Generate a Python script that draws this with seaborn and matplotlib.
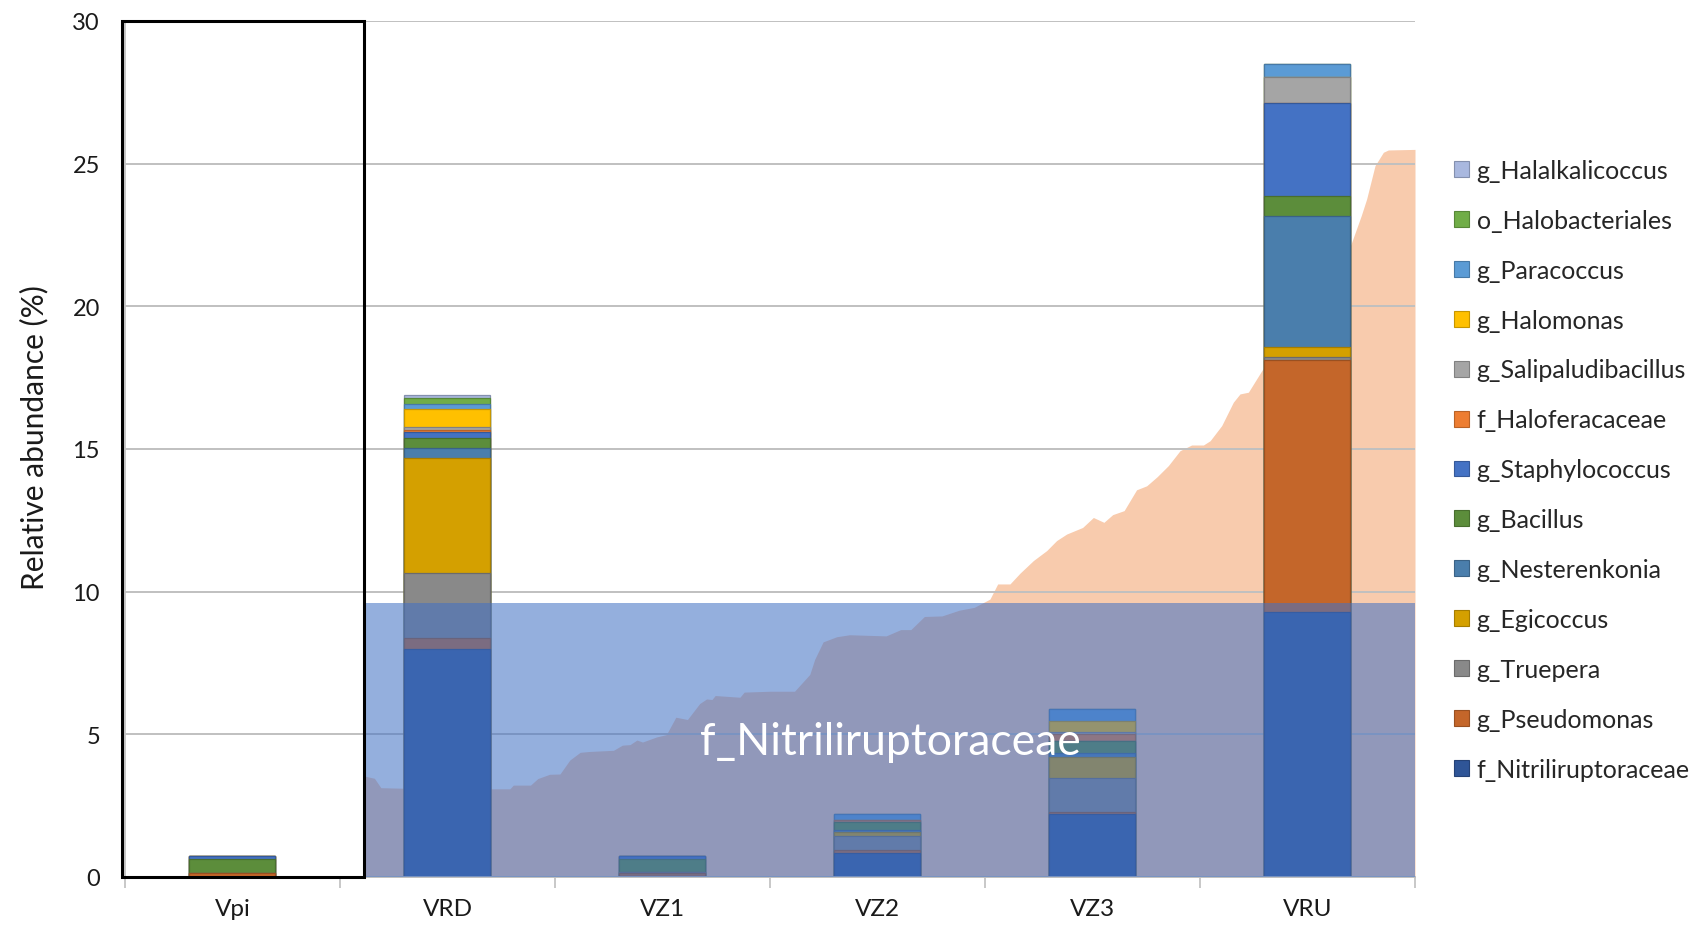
import numpy as np
import pandas as pd
import matplotlib
matplotlib.use("Agg")
import matplotlib.pyplot as plt
from matplotlib.patches import Rectangle, Patch
import matplotlib.colors as mcolors
import seaborn as sns

# ---- data -------------------------------------------------------------
sites = ["Vpi", "VRD", "VZ1", "VZ2", "VZ3", "VRU"]

f_Nitriliruptoraceae = [0.00, 8.00, 0.03, 0.85, 2.20, 9.30]
g_Pseudomonas        = [0.14, 0.39, 0.10, 0.10, 0.07, 8.81]
g_Truepera           = [0.00, 2.25, 0.06, 0.50, 1.19, 0.13]
g_Egicoccus          = [0.00, 4.04, 0.00, 0.14, 0.76, 0.34]
g_Nesterenkonia      = [0.00, 0.35, 0.00, 0.04, 0.14, 4.58]
g_Bacillus           = [0.48, 0.35, 0.45, 0.31, 0.39, 0.69]
g_Staphylococcus     = [0.12, 0.21, 0.08, 0.00, 0.00, 3.28]
f_Haloferacaceae     = [0.00, 0.09, 0.00, 0.06, 0.26, 0.00]
g_Salipaludibacillus = [0.00, 0.08, 0.00, 0.00, 0.07, 0.91]
g_Halomonas          = [0.00, 0.64, 0.00, 0.00, 0.40, 0.00]
g_Paracoccus         = [0.00, 0.18, 0.00, 0.20, 0.42, 0.47]
o_Halobacteriales    = [0.00, 0.20, 0.00, 0.00, 0.00, 0.00]
g_Halalkalicoccus    = [0.00, 0.10, 0.00, 0.00, 0.00, 0.00]

# stacking order, bottom to top
taxa = [
    ("f_Nitriliruptoraceae", f_Nitriliruptoraceae, "#2F5597"),
    ("g_Pseudomonas", g_Pseudomonas, "#C4662A"),
    ("g_Truepera", g_Truepera, "#898989"),
    ("g_Egicoccus", g_Egicoccus, "#D4A000"),
    ("g_Nesterenkonia", g_Nesterenkonia, "#4A7EAC"),
    ("g_Bacillus", g_Bacillus, "#5C8D3B"),
    ("g_Staphylococcus", g_Staphylococcus, "#4472C4"),
    ("f_Haloferacaceae", f_Haloferacaceae, "#ED7D31"),
    ("g_Salipaludibacillus", g_Salipaludibacillus, "#A5A5A5"),
    ("g_Halomonas", g_Halomonas, "#FFC000"),
    ("g_Paracoccus", g_Paracoccus, "#5B9BD5"),
    ("o_Halobacteriales", o_Halobacteriales, "#70AD47"),
    ("g_Halalkalicoccus", g_Halalkalicoccus, "#A9B8DF"),
]

# background abundance profile (category-axis positions and % values)
profile_x = [0.612, 0.66, 0.69, 0.80, 1.20, 1.29, 1.306, 1.386, 1.42, 1.475,
             1.523, 1.569, 1.617, 1.662, 1.772, 1.813, 1.849, 1.881, 1.907, 1.973,
             2.018, 2.062, 2.116, 2.173, 2.205, 2.23, 2.245, 2.36, 2.38, 2.50,
             2.614, 2.685, 2.708, 2.747, 2.81, 2.87, 3.04, 3.108, 3.155, 3.218,
             3.30, 3.38, 3.45, 3.523, 3.559, 3.616, 3.663, 3.725, 3.787, 3.833,
             3.88, 3.954, 4.004, 4.053, 4.094, 4.147, 4.205, 4.252, 4.301, 4.353,
             4.407, 4.461, 4.516, 4.547, 4.601, 4.655, 4.686, 4.725, 4.80, 5.0,
             5.20, 5.25, 5.275, 5.314, 5.353, 5.376, 5.5]
profile_y = [3.54, 3.46, 3.13, 3.11, 3.09, 3.09, 3.22, 3.22, 3.45, 3.60,
             3.61, 4.10, 4.37, 4.40, 4.44, 4.62, 4.64, 4.80, 4.73, 4.91,
             4.99, 5.60, 5.52, 6.08, 6.24, 6.22, 6.36, 6.30, 6.48, 6.51,
             6.51, 7.10, 7.63, 8.24, 8.42, 8.49, 8.45, 8.67, 8.67, 9.13,
             9.15, 9.35, 9.45, 9.74, 10.27, 10.27, 10.65, 11.09, 11.44, 11.79,
             12.02, 12.25, 12.60, 12.43, 12.70, 12.84, 13.57, 13.71, 14.03, 14.42,
             14.94, 15.14, 15.14, 15.29, 15.82, 16.64, 16.93, 16.99, 17.9, 20.0,
             22.13, 23.18, 23.76, 24.93, 25.40, 25.48, 25.50]

nitrili_band_level = 9.6
band_x = [0.612, 5.5]
highlight_x = [-0.515, 0.612]
y_max = 30

# ---- figure -----------------------------------------------------------
sns.set_theme(style="white")
plt.rcParams["font.family"] = ["Lato", "DejaVu Sans"]

fig = plt.figure(figsize=(17.08, 9.28), dpi=100)
ax = fig.add_axes([125 / 1708, 50 / 928, (1415 - 125) / 1708, (878 - 22) / 928])

# peach background area
ax.fill_between(profile_x, 0, profile_y, color="#F8CBAD", lw=0, zorder=0.2)

# stacked bars: draw cumulative heights from the top layer downwards
cum = np.cumsum(np.array([t[1] for t in taxa]), axis=0)
for i in range(len(taxa) - 1, -1, -1):
    name, vals, col = taxa[i]
    edge = tuple(np.array(mcolors.to_rgb(col)) * 0.78)
    df = pd.DataFrame({"site": sites, "value": cum[i]})
    sns.barplot(data=df, x="site", y="value", order=sites, color=col,
                saturation=1, width=0.4, errorbar=None, edgecolor=edge,
                linewidth=0.9, zorder=2, ax=ax)

# translucent blue band
ax.fill_between(band_x, 0, nitrili_band_level, color="#4472C4", alpha=0.57,
                lw=0, zorder=3)

# black frame around the first site
ax.add_patch(Rectangle((highlight_x[0], 0), highlight_x[1] - highlight_x[0], y_max,
                       fill=False, edgecolor="black", lw=2.2, zorder=4,
                       clip_on=False))

ax.text(3.06, 4.74, "f_Nitriliruptoraceae", color="white", fontsize=32,
        ha="center", va="center", zorder=5)

# axes styling
ax.set_xlim(-0.5, 5.5)
ax.set_ylim(0, y_max)
ax.set_yticks(range(0, 31, 5))
ax.set_axisbelow(True)
ax.yaxis.grid(True, color="#C0C0C0", lw=1.4)
ax.xaxis.grid(False)
for s in ["top", "right"]:
    ax.spines[s].set_visible(False)
ax.spines["left"].set_color("#BFBFBF")
ax.spines["bottom"].set_color("#BFBFBF")
ax.spines["bottom"].set_linewidth(1.4)
ax.set_xticks(range(len(sites)))
ax.set_xticklabels(sites)
ax.set_xticks(np.arange(-0.5, 6.0, 1.0), minor=True)
ax.tick_params(axis="x", which="major", length=0, pad=15, labelsize=17.5,
               labelcolor="#1a1a1a")
ax.tick_params(axis="x", which="minor", length=8, width=1.2, color="#BFBFBF",
               direction="out", bottom=True)
ax.tick_params(axis="y", length=0, pad=18, labelsize=17, labelcolor="#1a1a1a")
ax.set_xlabel("")
ax.set_ylabel("Relative abundance (%)", fontsize=21.5, color="#1a1a1a",
              labelpad=17, y=0.515)

# legend, top entry = top of the stack
handles = [Patch(facecolor=c, edgecolor=tuple(np.array(mcolors.to_rgb(c)) * 0.78),
                 lw=0.8, label=n) for n, _, c in taxa[::-1]]
fig.legend(handles=handles, loc="upper left",
           bbox_to_anchor=(1444 / 1708, 1 - 150 / 928), frameon=False,
           fontsize=18, handlelength=0.6, handleheight=0.6,
           handletextpad=0.3, labelspacing=1.075, borderaxespad=0)

fig.savefig("out.png", dpi=100)
